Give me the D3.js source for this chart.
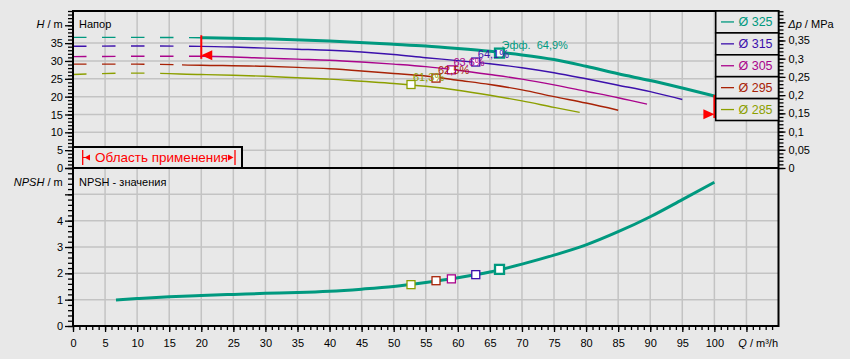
<!DOCTYPE html>
<html><head><meta charset="utf-8">
<script src="https://cdn.jsdelivr.net/npm/d3@7"></script>
<style>
html,body{margin:0;padding:0;background:#e8e8e8;}
svg{display:block;font-family:"Liberation Sans",Arial,sans-serif;}
</style></head><body>
<svg id="c" width="850" height="359"></svg>
<script>
// ---------- data ----------
const diameters = ["Ø 325", "Ø 315", "Ø 305", "Ø 295", "Ø 285"];
const colors = ["#00997f", "#3c10ac", "#aa048c", "#a82206", "#8c9f00"];

const q325 = [0, 10, 20, 30, 40, 50, 55, 60, 65, 70, 75, 80, 85, 90, 95, 100];
const h325 = [36.6, 36.6, 36.5, 36.2, 35.6, 34.7, 34.2, 33.5, 32.7, 31.7, 30.4, 28.5, 26.4, 24.5, 22.4, 20.2];
const q315 = [0, 10, 20, 25, 30, 35, 40, 45, 50, 55, 60, 65, 70, 75, 80, 85, 90, 95];
const h315 = [34.1, 34.2, 34.1, 33.9, 33.6, 33.3, 33.0, 32.5, 31.8, 30.9, 30.1, 29.2, 28.1, 26.7, 25.0, 23.2, 21.4, 19.2];
const q305 = [0, 10, 20, 30, 35, 40, 45, 50, 55, 60, 65, 70, 75, 80, 85, 89.5];
const h305 = [31.2, 31.3, 31.3, 30.8, 30.5, 30.2, 29.7, 29.1, 28.4, 27.4, 26.2, 24.9, 23.3, 21.5, 19.7, 17.9];
const q295 = [0, 10, 20, 30, 35, 40, 45, 50, 55, 60, 65, 70, 75, 80, 85];
const h295 = [29.1, 29.1, 28.8, 28.5, 28.2, 27.8, 27.2, 26.5, 25.8, 24.6, 23.4, 21.9, 20.0, 18.2, 16.2];
const q285 = [0, 10, 20, 25, 30, 35, 40, 45, 50, 55, 60, 65, 70, 75, 79];
const h285 = [26.2, 26.6, 26.2, 26.0, 25.7, 25.3, 24.9, 24.3, 23.7, 22.9, 21.8, 20.4, 18.8, 17.0, 15.6];
const dashEndQ = [20, 20, 20, 17, 13.6];

const qNpsh = [6.7, 10, 15, 20, 25, 30, 35, 40, 45, 50, 55, 60, 65, 70, 75, 80, 85, 90, 95, 100];
const npsh = [0.99, 1.04, 1.11, 1.16, 1.20, 1.24, 1.27, 1.32, 1.40, 1.50, 1.65, 1.83, 2.05, 2.35, 2.69, 3.08, 3.58, 4.15, 4.80, 5.46];

const bepQ = [66.5, 62.8, 59.0, 56.6, 52.7];
const bepH = [32.2, 29.7, 27.5, 25.2, 23.4];
const bepNpsh = [2.15, 1.95, 1.79, 1.72, 1.57];
const bepLabel = ["Эфф.  64,9%", "64,1%", "63,6%", "62,5%", "61,3%"];

const appQ = [20, 100];          // application range limits
const appLineTop = [37.2, 20.5];
const appLineBottom = [30.6, 14.0];
const appArrowH = [31.6, 15.05];

const xTicks = d3.range(0, 101, 5);
const hTicks = d3.range(0, 36, 5);
const pTicks = [0, 0.05, 0.1, 0.15, 0.2, 0.25, 0.3, 0.35];
const nTicks = [0, 1, 2, 3, 4];

const series = [
  {q: q325, h: h325}, {q: q315, h: h315}, {q: q305, h: h305}, {q: q295, h: h295}, {q: q285, h: h285}
];

// ---------- scales ----------
const RHOG = 0.009792; // MPa per m
const x = d3.scaleLinear().domain([0, 110]).range([73, 778.5]);
const yH = d3.scaleLinear().domain([0, 44]).range([168, 11]);
const yP = d3.scaleLinear().domain([0, 44 * RHOG]).range([168, 11]);
const yN = d3.scaleLinear().domain([0, 6]).range([326, 168]);

const svg = d3.select("#c");
const BG = "#e8e8e8";
const GRID = "#c3c3c3";

// ---------- grid ----------
const grid = svg.append("g").attr("stroke", GRID).attr("stroke-width", 1.5);
d3.range(5, 110, 5).forEach(q => grid.append("line").attr("x1", x(q)).attr("x2", x(q)).attr("y1", 11).attr("y2", 326));
d3.range(5, 40, 5).forEach(h => grid.append("line").attr("x1", 73).attr("x2", 778.5).attr("y1", yH(h)).attr("y2", yH(h)));
d3.range(1, 6, 1).forEach(n => grid.append("line").attr("x1", 73).attr("x2", 778.5).attr("y1", yN(n)).attr("y2", yN(n)));

// ---------- curves ----------
const defs = svg.append("defs");
const line = d3.line().x(d => x(d[0])).y(d => yH(d[1])).curve(d3.curveMonotoneX);
const order = [4, 3, 2, 1, 0];
order.forEach(i => {
  const s = series[i];
  const pts = s.q.map((q, k) => [q, s.h[k]]);
  defs.append("clipPath").attr("id", "cd" + i).append("rect")
    .attr("x", 73).attr("y", 0).attr("width", x(dashEndQ[i]) - 73).attr("height", 170);
  defs.append("clipPath").attr("id", "cs" + i).append("rect")
    .attr("x", x(dashEndQ[i])).attr("y", 0).attr("width", 779 - x(dashEndQ[i])).attr("height", 170);
  svg.append("path").attr("d", line(pts)).attr("fill", "none").attr("stroke", colors[i])
    .attr("stroke-width", 1.4).attr("stroke-dasharray", "13.5,15.5").attr("clip-path", "url(#cd" + i + ")");
  svg.append("path").attr("d", line(pts)).attr("fill", "none").attr("stroke", colors[i])
    .attr("stroke-width", i === 0 ? 3 : 1.4).attr("clip-path", "url(#cs" + i + ")");
});

// NPSH curve
const lineN = d3.line().x(d => x(d[0])).y(d => yN(d[1])).curve(d3.curveMonotoneX);
svg.append("path").attr("d", lineN(qNpsh.map((q, k) => [q, npsh[k]])))
  .attr("fill", "none").attr("stroke", colors[0]).attr("stroke-width", 3);

// ---------- BEP markers ----------
order.forEach(i => {
  const sz = i === 0 ? 9 : 8, sw = i === 0 ? 2.3 : 1.3;
  [[yH(bepH[i])], [yN(bepNpsh[i])]].forEach(([yy]) => {
    svg.append("rect").attr("x", x(bepQ[i]) - sz / 2).attr("y", yy - sz / 2)
      .attr("width", sz).attr("height", sz).attr("fill", "#fff")
      .attr("stroke", colors[i]).attr("stroke-width", sw);
  });
});
order.forEach(i => {
  svg.append("text").attr("x", x(bepQ[i]) + 2).attr("y", yH(bepH[i]) - 4)
    .attr("font-size", 11).attr("fill", colors[i]).style("white-space", "pre")
    .text(bepLabel[i]);
});

// ---------- application range indicators ----------
const RED = "#ff0000";
appQ.forEach((q, k) => {
  const xx = x(q);
  svg.append("line").attr("x1", xx).attr("x2", xx).attr("y1", yH(appLineTop[k])).attr("y2", yH(appLineBottom[k]))
    .attr("stroke", RED).attr("stroke-width", 2);
  const ya = yH(appArrowH[k]);
  const dir = k === 0 ? 1 : -1;
  svg.append("path").attr("d", `M${xx},${ya} L${xx + dir * 11},${ya - 5} L${xx + dir * 11},${ya + 5} Z`).attr("fill", RED);
});

// ---------- frame ----------
svg.append("rect").attr("x", 73).attr("y", 11).attr("width", 778.5 - 73).attr("height", 326 - 11)
  .attr("fill", "none").attr("stroke", "#000").attr("stroke-width", 2);
svg.append("line").attr("x1", 73).attr("x2", 778.5).attr("y1", 168).attr("y2", 168).attr("stroke", "#000").attr("stroke-width", 2);

// ---------- legend ----------
const legH = 21.9;
diameters.forEach((d, i) => {
  const y0 = 11 + i * legH;
  svg.append("rect").attr("x", 715.7).attr("y", y0).attr("width", 778.5 - 715.7).attr("height", legH)
    .attr("fill", BG).attr("stroke", "#000").attr("stroke-width", 1.6);
  svg.append("line").attr("x1", 721).attr("x2", 734).attr("y1", y0 + legH / 2).attr("y2", y0 + legH / 2)
    .attr("stroke", colors[i]).attr("stroke-width", 1.3);
  svg.append("text").attr("x", 738.5).attr("y", y0 + legH / 2 + 4.5).attr("font-size", 12.5)
    .attr("fill", colors[i]).text(d);
});

// ---------- application range box ----------
svg.append("rect").attr("x", 73).attr("y", 147).attr("width", 169).attr("height", 21)
  .attr("fill", BG).attr("stroke", "#000").attr("stroke-width", 2);
svg.append("line").attr("x1", 82.7).attr("x2", 82.7).attr("y1", 150).attr("y2", 165).attr("stroke", RED).attr("stroke-width", 1.3);
svg.append("path").attr("d", "M84.5,157.5 L90,154.5 L90,160.5 Z").attr("fill", RED);
svg.append("line").attr("x1", 83).attr("x2", 88).attr("y1", 157.5).attr("y2", 157.5).attr("stroke", RED).attr("stroke-width", 1);
svg.append("line").attr("x1", 235).attr("x2", 235).attr("y1", 150).attr("y2", 165).attr("stroke", RED).attr("stroke-width", 1.3);
svg.append("path").attr("d", "M233.5,157.5 L228,154.5 L228,160.5 Z").attr("fill", RED);
svg.append("text").attr("x", 95).attr("y", 162).attr("font-size", 13.5).attr("fill", RED).text("Область применения");

// ---------- axes ----------
function styleAxis(g) {
  g.attr("font-family", null).attr("font-size", 11);
  g.select(".domain").remove();
  g.selectAll("line").attr("stroke", "#000").attr("stroke-width", 1.3);
  g.selectAll("text").attr("fill", "#000");
}
// left H
svg.append("g").attr("transform", "translate(73,0)")
  .call(d3.axisLeft(yH).tickValues(d3.range(0, 45, 1)).tickSize(5).tickFormat(""))
  .call(styleAxis);
svg.append("g").attr("transform", "translate(73,0)")
  .call(d3.axisLeft(yH).tickValues(d3.range(0, 45, 5)).tickSize(8).tickPadding(2)
    .tickFormat(d => hTicks.includes(d) ? d : ""))
  .call(styleAxis);
// left NPSH
svg.append("g").attr("transform", "translate(73,0)")
  .call(d3.axisLeft(yN).tickValues(d3.range(0, 30.5, 1).map(v => v / 5)).tickSize(5).tickFormat(""))
  .call(styleAxis);
svg.append("g").attr("transform", "translate(73,0)")
  .call(d3.axisLeft(yN).tickValues(d3.range(0, 7, 1)).tickSize(8).tickPadding(2)
    .tickFormat(d => nTicks.includes(d) ? d : ""))
  .call(styleAxis);
// right Δp
const fmtP = d => d3.format(".2~f")(d).replace(".", ",");
svg.append("g").attr("transform", "translate(778.5,0)")
  .call(d3.axisRight(yP).tickValues(d3.range(0, 43.1, 1).map(v => v / 100)).tickSize(5).tickFormat(""))
  .call(styleAxis);
svg.append("g").attr("transform", "translate(778.5,0)")
  .call(d3.axisRight(yP).tickValues(d3.range(0, 9, 1).map(v => v / 20)).tickSize(7).tickPadding(3)
    .tickFormat(d => pTicks.some(p => Math.abs(p - d) < 1e-9) ? fmtP(d) : ""))
  .call(styleAxis);
// bottom Q
svg.append("g").attr("transform", "translate(0,326)")
  .call(d3.axisBottom(x).tickValues(d3.range(0, 110, 1)).tickSize(4).tickFormat(""))
  .call(styleAxis);
svg.append("g").attr("transform", "translate(0,326)")
  .call(d3.axisBottom(x).tickValues(d3.range(0, 110, 5)).tickSize(6).tickPadding(7.5)
    .tickFormat(d => xTicks.includes(d) ? d : ""))
  .call(styleAxis);

// ---------- titles ----------
function title(xx, yy, anchor, ital, rest) {
  const t = svg.append("text").attr("x", xx).attr("y", yy).attr("text-anchor", anchor)
    .attr("font-size", 11).attr("fill", "#000");
  t.append("tspan").attr("font-style", "italic").text(ital);
  t.append("tspan").text(rest);
}
title(62.7, 28, "end", "H", " / m");
title(62.7, 185.7, "end", "NPSH", " / m");
title(788.3, 28, "start", "Δp", " / MPa");
title(778, 347.3, "end", "Q", " / m³/h");
svg.append("text").attr("x", 79).attr("y", 28).attr("font-size", 11).attr("fill", "#000").text("Напор");
svg.append("text").attr("x", 79).attr("y", 185.7).attr("font-size", 11).attr("fill", "#000").text("NPSH - значения");
</script>
</body></html>
